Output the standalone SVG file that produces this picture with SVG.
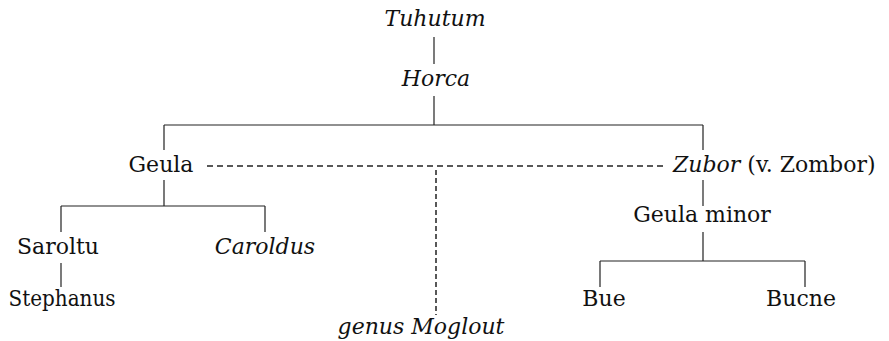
<svg xmlns="http://www.w3.org/2000/svg" width="889" height="341" viewBox="0 0 889 341">
  <style>
    text { font-family: "DejaVu Serif", "Times New Roman", serif; font-size: 22px; fill: #111; }
    .it { font-style: italic; }
    .mid { text-anchor: middle; }
    .ln { stroke: #222; stroke-width: 1.2; fill: none; }
    .dash { stroke: #222; stroke-width: 1.3; fill: none; stroke-dasharray: 6 4; }
    .vdash { stroke: #222; stroke-width: 1.5; fill: none; stroke-dasharray: 5 3; }
  </style>
  <rect width="889" height="341" fill="#fff"/>

  <!-- connectors -->
  <g id="connectors">
    <path class="ln" d="M434 37V64"/>
    <path class="ln" d="M434 96V125"/>
    <path class="ln" d="M164 125H703M164 125V150M703 125V150"/>
    <path class="ln" d="M164 180V206M61 206H265M61 206V232M265 206V232"/>
    <path class="ln" d="M61 263V287"/>
    <path class="ln" d="M703 180V206"/>
    <path class="ln" d="M703 232V261M600 261H805M600 261V287M805 261V287"/>
    <path class="dash" d="M207 166H663"/>
    <path class="vdash" d="M436 170V315"/>
  </g>

  <!-- family members -->
  <g id="tuhutum"><text class="it mid" x="435" y="26">Tuhutum</text></g>
  <g id="horca"><text class="it mid" x="436" y="86">Horca</text></g>
  <g id="geula"><text class="mid" x="161" y="172">Geula</text></g>
  <g id="zubor"><text x="673" y="172"><tspan class="it">Zubor</tspan> (v. Zombor)</text></g>
  <g id="genus-moglout"><text class="it mid" x="421" y="334">genus Moglout</text></g>
  <g id="saroltu"><text class="mid" x="58" y="254">Saroltu</text></g>
  <g id="caroldus"><text class="it mid" x="265" y="254">Caroldus</text></g>
  <g id="stephanus"><text class="mid" x="62" y="306" textLength="107" lengthAdjust="spacingAndGlyphs">Stephanus</text></g>
  <g id="geula-minor"><text class="mid" x="702" y="222">Geula minor</text></g>
  <g id="bue"><text class="mid" x="604" y="306">Bue</text></g>
  <g id="bucne"><text class="mid" x="801" y="306">Bucne</text></g>
</svg>
